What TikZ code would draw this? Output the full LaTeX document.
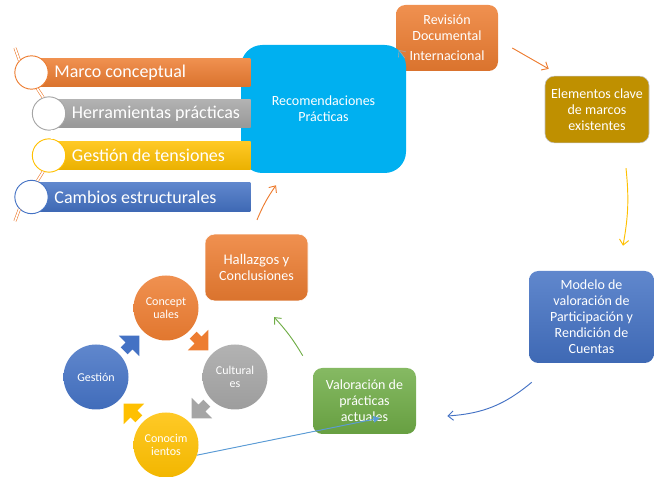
\documentclass[tikz,border=0pt]{standalone}
\usepackage{fontspec}
\setmainfont{Carlito}
\usetikzlibrary{arrows.meta,shapes.arrows,positioning,calc}
\definecolor{corange}{RGB}{237,125,49}
\definecolor{cgray}  {RGB}{165,165,165}
\definecolor{cyellow}{RGB}{255,192,0}
\definecolor{cblue}  {RGB}{68,114,196}
\definecolor{cgreen} {RGB}{112,173,71}
\definecolor{ccyan}  {RGB}{0,176,240}
\definecolor{cgold}  {RGB}{191,144,0}
\definecolor{lblue}  {RGB}{91,155,213}
\tikzset{
  card/.style   ={rounded corners=7pt, align=center, text=white, inner sep=2pt,
                  font=\fontsize{10.5}{12}\selectfont},
  gradcard/.style={card, top color=#1!85!white, bottom color=#1!92!black},
  barbox/.style ={anchor=west, minimum height=21.5pt, inner sep=0pt,
                  top color=#1!85!white, bottom color=#1!92!black},
  bartext/.style={font=\fontsize{13.5}{15}\selectfont, text=white, inner sep=0pt},
  ring/.style   ={circle, draw=#1, fill=white, line width=0.7pt,
                  minimum size=25pt, inner sep=0pt},
  chain/.style  ={draw=corange, double=white, line width=0.45pt,
                  double distance=1.3pt},
  bubble/.style ={circle, minimum size=48.75pt, inner sep=0pt, align=center,
                  text=white, font=\fontsize{9}{9.5}\selectfont,
                  top color=#1!85!white, bottom color=#1!95!black},
  turn/.style   ={single arrow, minimum height=16pt, minimum width=14pt,
                  inner xsep=0pt, inner ysep=3.5pt, fill=#1},
  link/.style   ={-{Straight Barb[length=4pt,width=7pt]}, line width=0.7pt},
}
\begin{document}
\begin{tikzpicture}[x=0.75pt,y=-0.75pt]
  \useasboundingbox (0,0) rectangle (654,477);

  \node[gradcard=corange, minimum width=76.5pt, minimum height=49.5pt]
        (rev) at (447,38) {Revisión\\Documental\\[3pt]Internacional};
  \node[card, fill=ccyan, rounded corners=16pt, minimum width=123.75pt,
        minimum height=96pt] (rec) at (323.5,109) {Recomendaciones\\Prácticas};
  \draw[link, draw=cgray, line width=0.5pt] ($(rev.west)+(9,20)$) -- ($(rev.west)+(3,12)$);

  \node[barbox=corange, minimum width=164pt] (mcbar) at (31.5,72.5) {};
  \node[barbox=cgray,   minimum width=151pt] (hpbar) at (49,113.5) {};
  \node[barbox=cyellow, minimum width=151pt] (gtbar) at (49,155.5) {};
  \node[barbox=cblue,   minimum width=164pt] (cebar) at (31.5,197) {};
  \coordinate (chtop) at (15,48);
  \coordinate (chbot) at (15,221);
  \node[ring=corange] (mcring) at (31.5,72.5) {};
  \node[ring=cgray]   (hpring) at (49,113.5) {};
  \node[ring=cyellow] (gtring) at (49,155.5) {};
  \node[ring=cblue]   (cering) at (31.5,197) {};
  \draw[chain] (chtop) -- (mcring.135);
  \draw[chain] (mcring.-70) -- (hpring.110);
  \draw[chain] (hpring.-80) -- (gtring.80);
  \draw[chain] (gtring.-110) -- (cering.70);
  \draw[chain] (cering.-135) -- (chbot);
  \node[bartext, anchor=west, right=17pt of mcring.center] (mctext) {Marco conceptual};
  \node[bartext, anchor=west, right=17pt of hpring.center] (hptext) {Herramientas prácticas};
  \node[bartext, anchor=west, right=17pt of gtring.center] (gttext) {Gestión de tensiones};
  \node[bartext, anchor=west, right=17pt of cering.center] (cetext) {Cambios estructurales};

  \node[card, fill=cgold, draw=gray!50, minimum width=78pt, minimum height=50pt]
        (ele) at (597,109.5) {Elementos clave\\de marcos\\existentes};
  \node[gradcard=cblue, minimum width=93.75pt, minimum height=69pt]
        (mod) at (591.5,317) {Modelo de\\valoración de\\Participación y\\Rendición de\\Cuentas};
  \node[gradcard=cgreen, minimum width=77.25pt, minimum height=49.5pt]
        (val) at (364.5,401) {Valoración de\\prácticas\\actuales};
  \node[gradcard=corange, draw=white, minimum width=77.25pt, minimum height=50pt]
        (hal) at (256.5,267.5) {\fontsize{11}{12}\selectfont Hallazgos y\\Conclusiones};

  \node[bubble=corange] (cpt) at (166,308) {Concept\\uales};
  \node[bubble=cgray]   (cul) at (235,377) {Cultural\\es};
  \node[bubble=cyellow] (con) at (166,445) {Conocim\\ientos};
  \node[bubble=cblue]   (ges) at (96,377)  {Gestión};
  \node[turn=cblue,   rotate=45]   (g2c) at (130,345) {};
  \node[turn=corange, rotate=-45]  (c2u) at (199,341) {};
  \node[turn=cgray,   rotate=-135] (u2k) at (201,409) {};
  \node[turn=cyellow, rotate=135]  (k2g) at (133,413) {};

  \draw[link, draw=corange] ($(rev.east)+(14,10)$) -- ($(ele.north west)+(4,-7)$);
  \draw[link, draw=cyellow] ($(ele.south)+(29,25)$) to[bend left=8] ($(mod.north)+(31.5,-25)$);
  \draw[link, draw=cblue] ($(mod.south west)+(3,19)$) to[bend left=18] ($(val.east)+(31,15)$);
  \draw[link, draw=cgreen] ($(val.north west)+(-10,-12)$) to[bend right=6] ($(hal.south)+(17.5,16)$);
  \draw[link, draw=corange] ($(hal.north)+(0.5,-14)$) to[bend left=6] ($(rec.south)+(-47.5,12)$);
  \draw[-{Triangle[length=5pt,width=5pt]}, draw=lblue, fill=lblue, line width=0.7pt]
        (con.-18) -- ($(val.center)+(15.5,17)$);
\end{tikzpicture}
\end{document}
